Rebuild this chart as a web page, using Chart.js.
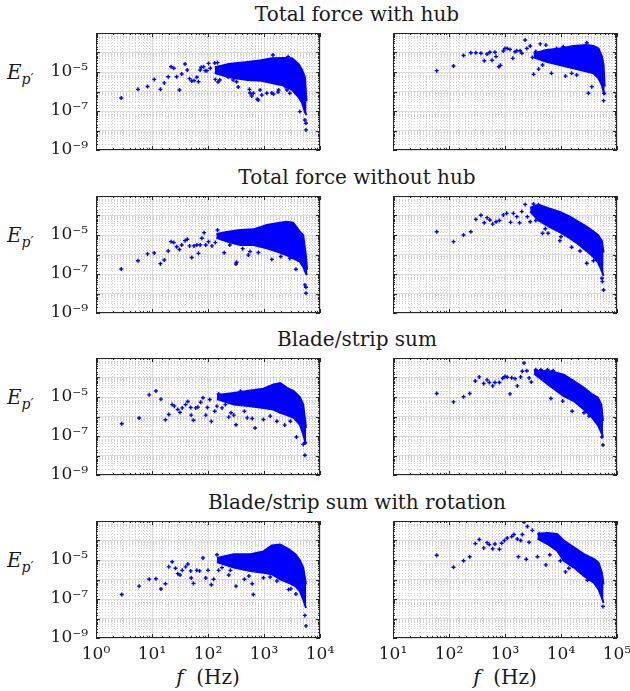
<!DOCTYPE html>
<html>
<head>
<meta charset="utf-8">
<script src="https://cdn.jsdelivr.net/npm/chart.js@4.4.0/dist/chart.umd.min.js"></script>
<style>
body { margin: 0; background: #fff; }
#wrap { position: relative; width: 630px; height: 691px; overflow: hidden; font-family: "DejaVu Serif", serif; color: #1a1a1a; }
.pan { position: absolute; }
.tit { position: absolute; left: 57px; width: 600px; text-align: center; font-size: 20px; line-height: 24px; }
.ylab { position: absolute; left: 7px; font-size: 20px; line-height: 24px; }
.ylab sub { font-size: 14px; }
.xlab { position: absolute; width: 140px; text-align: center; font-size: 20px; line-height: 24px; top: 665px; }
</style>
</head>
<body>
<div id="wrap"></div>
<script>
// titoli dei 4 gruppi
var titoli = ['Total force with hub', 'Total force without hub', 'Blade/strip sum', 'Blade/strip sum with rotation'];

// etichette degli assi (decadi)
var xLabLeft = [0, 1, 2, 3, 4];
var xLabRight = [1, 2, 3, 4, 5];
var yLab = [-9, -7, -5];

// punti sparsi: [log10 f, log10 E]
var p1Pts = [[0.45,-6.33],[0.75,-5.89],[0.92,-5.74],[1.04,-5.38],[1.15,-5.89],[1.22,-5.56],[1.29,-5.24],[1.34,-4.73],[1.39,-4.81],[1.44,-5.24],[1.49,-5.92],[1.53,-5.10],[1.59,-4.59],[1.63,-4.90],[1.67,-5.34],[1.71,-5.46],[1.75,-5.44],[1.80,-5.27],[1.83,-5.50],[1.86,-4.90],[1.88,-4.76],[1.92,-4.73],[1.95,-4.93],[1.98,-4.93],[2.01,-4.56],[2.04,-4.81],[2.13,-5.38],[2.12,-4.54],[2.17,-4.52],[2.21,-5.41],[2.24,-4.81],[2.18,-5.51],[2.36,-5.26],[2.36,-4.64],[2.54,-5.77],[2.45,-5.41],[2.51,-5.50],[2.70,-4.54],[2.72,-4.56],[2.74,-5.89],[2.75,-6.08],[2.78,-6.23],[2.81,-6.09],[2.88,-6.40],[2.90,-6.44],[2.93,-5.92],[2.96,-6.18],[3.05,-6.09],[3.14,-6.08],[3.17,-6.13],[3.16,-4.13],[3.25,-6.03],[3.26,-5.92],[3.38,-5.75],[3.41,-5.92],[3.43,-4.22],[3.46,-6.09],[3.64,-7.03],[3.73,-7.46],[3.75,-7.63],[3.75,-7.97]];
var p2Pts = [[1.78,-4.93],[2.08,-4.69],[2.26,-4.15],[2.39,-4.01],[2.48,-4.01],[2.57,-4.04],[2.63,-4.42],[2.68,-4.08],[2.73,-3.99],[2.77,-4.40],[2.82,-3.99],[2.84,-4.21],[2.89,-4.73],[2.92,-4.66],[2.97,-3.92],[3.00,-3.79],[3.04,-3.79],[3.09,-3.84],[3.14,-4.30],[3.18,-3.96],[3.21,-3.91],[3.27,-3.91],[3.30,-4.04],[3.36,-3.36],[3.39,-3.79],[3.45,-3.67],[3.49,-4.25],[3.51,-5.12],[3.55,-3.95],[3.60,-4.85],[3.63,-3.56],[3.67,-4.64],[3.73,-3.62],[3.83,-5.07],[3.92,-3.79],[4.04,-3.70],[4.08,-5.21],[4.19,-5.07],[4.28,-5.15],[4.46,-3.50],[4.49,-6.09],[4.55,-5.75],[4.76,-6.47],[4.77,-6.09]];
var p3Pts = [[0.45,-6.74],[0.75,-6.32],[0.92,-5.97],[1.04,-5.92],[1.15,-6.47],[1.22,-6.28],[1.29,-5.82],[1.34,-5.34],[1.39,-5.39],[1.44,-5.60],[1.49,-5.74],[1.53,-5.51],[1.59,-5.29],[1.63,-5.22],[1.67,-5.56],[1.71,-6.15],[1.75,-5.56],[1.80,-5.51],[1.83,-5.94],[1.86,-5.51],[1.89,-5.17],[1.93,-4.88],[1.96,-5.51],[2.01,-5.34],[2.07,-5.56],[2.13,-5.39],[2.17,-4.74],[2.24,-5.17],[2.29,-5.91],[2.39,-5.51],[2.50,-6.49],[2.51,-6.40],[2.62,-5.70],[2.72,-6.03],[2.75,-5.85],[2.90,-5.90],[3.14,-6.25],[3.30,-6.10],[3.46,-6.20],[3.57,-6.76],[3.73,-7.56],[3.75,-7.68],[3.75,-7.99]];
var p4Pts = [[1.78,-4.83],[2.08,-5.34],[2.26,-5.00],[2.39,-4.83],[2.48,-4.20],[2.57,-3.99],[2.63,-4.37],[2.68,-4.11],[2.73,-4.23],[2.78,-4.44],[2.84,-4.32],[2.90,-4.26],[2.97,-3.97],[3.03,-3.89],[3.10,-4.35],[3.15,-3.89],[3.21,-4.06],[3.26,-4.37],[3.30,-3.80],[3.36,-3.43],[3.40,-4.06],[3.45,-4.32],[3.51,-3.41],[3.55,-4.26],[3.60,-3.46],[3.67,-4.91],[3.72,-4.68],[3.77,-4.91],[3.98,-5.29],[4.00,-5.09],[4.19,-5.63],[4.34,-5.82],[4.46,-6.45],[4.58,-6.32],[4.73,-7.22],[4.74,-7.39],[4.76,-7.82]];
var p5Pts = [[0.46,-6.37],[0.77,-6.08],[0.95,-4.89],[1.07,-4.69],[1.16,-5.11],[1.24,-6.17],[1.30,-5.90],[1.36,-5.39],[1.40,-5.47],[1.46,-5.64],[1.50,-5.79],[1.54,-5.56],[1.60,-5.39],[1.64,-5.23],[1.69,-5.54],[1.70,-5.93],[1.74,-6.19],[1.78,-5.56],[1.82,-5.52],[1.87,-5.27],[1.91,-5.04],[1.96,-5.93],[1.99,-5.54],[2.03,-5.13],[2.06,-6.25],[2.12,-5.73],[2.16,-5.47],[2.19,-4.84],[2.25,-5.56],[2.31,-5.39],[2.37,-6.03],[2.41,-5.81],[2.46,-5.93],[2.50,-6.42],[2.58,-4.70],[2.65,-5.73],[2.70,-6.07],[2.79,-6.10],[2.84,-6.59],[2.99,-6.15],[3.11,-5.98],[3.23,-6.24],[3.37,-6.44],[3.47,-6.24],[3.58,-7.05],[3.70,-7.43],[3.73,-7.34],[3.73,-7.99]];
var p6Pts = [[1.78,-4.82],[2.08,-5.25],[2.26,-4.99],[2.37,-4.82],[2.47,-4.18],[2.54,-3.97],[2.62,-4.31],[2.68,-4.12],[2.72,-4.26],[2.78,-4.43],[2.82,-4.26],[2.90,-4.26],[2.96,-4.04],[3.00,-3.95],[3.04,-3.99],[3.09,-4.84],[3.12,-4.01],[3.18,-4.06],[3.22,-4.43],[3.28,-3.97],[3.31,-3.68],[3.34,-3.26],[3.39,-3.65],[3.43,-4.02],[3.47,-4.23],[3.55,-3.60],[3.64,-3.60],[3.70,-3.77],[3.76,-3.60],[3.82,-5.08],[3.86,-3.65],[4.03,-5.21],[4.20,-5.73],[4.41,-5.81],[4.50,-5.98],[4.73,-7.05],[4.75,-7.46]];
var p7Pts = [[0.46,-6.77],[0.77,-6.34],[0.95,-5.99],[1.07,-5.96],[1.16,-6.49],[1.24,-6.22],[1.30,-5.35],[1.36,-5.09],[1.42,-5.42],[1.46,-5.70],[1.50,-5.77],[1.54,-5.53],[1.60,-5.35],[1.64,-5.21],[1.69,-5.56],[1.70,-5.92],[1.74,-6.20],[1.80,-5.53],[1.85,-5.56],[1.91,-4.90],[1.96,-5.92],[2.00,-5.53],[2.06,-6.27],[2.10,-5.99],[2.16,-4.73],[2.19,-5.53],[2.25,-5.39],[2.37,-5.77],[2.40,-5.53],[2.50,-6.34],[2.61,-4.78],[2.65,-5.99],[2.73,-5.82],[2.79,-6.22],[2.81,-6.77],[2.99,-5.91],[3.11,-5.87],[3.23,-6.08],[3.44,-6.51],[3.48,-6.48],[3.57,-6.74],[3.73,-7.84],[3.75,-8.38]];
var p8Pts = [[1.78,-4.76],[2.08,-5.37],[2.26,-5.04],[2.37,-4.83],[2.47,-4.16],[2.54,-3.95],[2.62,-4.38],[2.68,-4.11],[2.72,-4.21],[2.78,-4.42],[2.82,-4.18],[2.90,-4.45],[2.94,-4.14],[2.99,-4.00],[3.04,-3.87],[3.12,-3.80],[3.16,-3.69],[3.22,-3.92],[3.24,-4.83],[3.28,-4.00],[3.31,-3.69],[3.34,-3.05],[3.38,-4.96],[3.40,-3.28],[3.43,-4.09],[3.49,-3.48],[3.58,-4.83],[3.61,-3.66],[3.73,-5.25],[3.80,-4.73],[3.99,-5.04],[4.08,-5.61],[4.14,-5.42],[4.47,-6.04],[4.75,-7.38]];

// nuvola densa: [log10 f, bordo alto, bordo basso]
var p1Env = [[2.12,-4.75,-5.05],[2.40,-4.58,-5.28],[2.71,-4.49,-5.41],[2.95,-4.40,-5.45],[3.14,-4.30,-5.56],[3.35,-4.28,-5.70],[3.50,-4.30,-5.92],[3.62,-4.60,-6.30],[3.68,-4.90,-6.59],[3.73,-5.26,-7.05],[3.76,-6.50,-7.20]];
var p2Env = [[3.51,-4.05,-4.25],[3.74,-3.87,-4.47],[3.98,-3.79,-4.64],[4.22,-3.67,-4.81],[4.46,-3.62,-4.98],[4.58,-3.67,-5.07],[4.67,-3.79,-5.32],[4.73,-4.21,-5.67],[4.76,-4.64,-6.01],[4.78,-5.75,-6.18]];
var p3Env = [[2.15,-4.95,-5.15],[2.33,-4.85,-5.32],[2.57,-4.74,-5.51],[2.81,-4.71,-5.51],[3.05,-4.49,-5.68],[3.23,-4.40,-5.85],[3.40,-4.32,-6.03],[3.52,-4.37,-6.20],[3.64,-4.83,-6.37],[3.70,-5.00,-6.62],[3.75,-6.11,-6.97],[3.77,-6.79,-7.05]];
var p4Env = [[3.45,-3.60,-3.80],[3.60,-3.45,-4.25],[3.80,-3.65,-4.60],[3.98,-3.82,-4.85],[4.15,-4.05,-5.15],[4.30,-4.30,-5.45],[4.45,-4.55,-5.80],[4.57,-4.80,-6.10],[4.66,-5.00,-6.40],[4.73,-5.30,-6.85],[4.76,-5.90,-7.10]];
var p5Env = [[2.16,-4.90,-5.10],[2.46,-4.79,-5.39],[2.76,-4.67,-5.47],[2.99,-4.57,-5.56],[3.17,-4.36,-5.64],[3.29,-4.28,-5.81],[3.41,-4.53,-5.93],[3.53,-4.70,-6.07],[3.64,-5.01,-6.41],[3.70,-5.39,-6.92],[3.75,-6.58,-7.43]];
var p6Env = [[3.52,-3.65,-3.80],[3.81,-3.68,-4.45],[4.05,-3.85,-4.96],[4.23,-4.19,-5.21],[4.41,-4.53,-5.64],[4.56,-4.87,-6.07],[4.66,-5.04,-6.44],[4.72,-5.39,-6.83],[4.75,-6.24,-7.00]];
var p7Env = [[2.16,-4.90,-5.10],[2.46,-4.70,-5.39],[2.76,-4.70,-5.56],[2.99,-4.56,-5.65],[3.14,-4.26,-5.73],[3.29,-4.21,-5.99],[3.44,-4.44,-6.17],[3.56,-4.70,-6.34],[3.64,-5.01,-6.60],[3.70,-5.39,-7.03],[3.75,-6.25,-7.46]];
var p8Env = [[3.58,-3.65,-3.90],[3.76,-3.62,-4.18],[3.93,-3.66,-4.52],[4.05,-4.00,-5.04],[4.23,-4.35,-5.39],[4.41,-4.70,-5.82],[4.59,-4.96,-6.17],[4.67,-5.13,-6.51],[4.73,-5.65,-6.94],[4.76,-6.25,-7.20]];

var pannelli = [
    {pts: p1Pts, env: p1Env}, {pts: p2Pts, env: p2Env},
    {pts: p3Pts, env: p3Env}, {pts: p4Pts, env: p4Env},
    {pts: p5Pts, env: p5Env}, {pts: p6Pts, env: p6Env},
    {pts: p7Pts, env: p7Env}, {pts: p8Pts, env: p8Env}
];

// geometria
var plotLeft = [96, 393];
var plotTop = [33, 196, 358, 521];
var plotW = 224, plotH = 117;
var L = 64, R = 24, T = 8, B = 40;
var blu = '#0000ff';

var wrap = document.getElementById('wrap');

function isDecade(v) {
    var l = Math.log10(v);
    return Math.abs(l - Math.round(l)) < 1e-6;
}

var supMap = {'-': '\u207B', '0': '\u2070', '1': '\u00B9', '2': '\u00B2', '3': '\u00B3', '4': '\u2074', '5': '\u2075', '6': '\u2076', '7': '\u2077', '8': '\u2078', '9': '\u2079'};
function potenza(e) {
    var s = String(e).split('').map(function(c) { return supMap[c]; }).join('');
    return '10' + s;
}

// cornice nera con tacche interne
var cornice = {
    id: 'cornice',
    afterDraw: function(chart) {
        var a = chart.chartArea, ctx = chart.ctx;
        var sx = chart.scales.x, sy = chart.scales.y;
        ctx.save();
        ctx.strokeStyle = '#262626';
        ctx.lineWidth = 1;
        ctx.beginPath();
        sx.ticks.forEach(function(t) {
            var px = Math.round(sx.getPixelForValue(t.value)) + 0.5;
            var len = isDecade(t.value) ? 4 : 2;
            ctx.moveTo(px, a.bottom); ctx.lineTo(px, a.bottom - len);
            ctx.moveTo(px, a.top); ctx.lineTo(px, a.top + len);
        });
        sy.ticks.forEach(function(t) {
            var py = Math.round(sy.getPixelForValue(t.value)) + 0.5;
            var len = isDecade(t.value) ? 4 : 2;
            ctx.moveTo(a.left, py); ctx.lineTo(a.left + len, py);
            ctx.moveTo(a.right, py); ctx.lineTo(a.right - len, py);
        });
        ctx.stroke();
        ctx.strokeRect(a.left + 0.5, a.top + 0.5, a.right - a.left - 1, a.bottom - a.top - 1);
        ctx.restore();
    }
};

function xy(i) {
    return function(p) { return {x: Math.pow(10, p[0]), y: Math.pow(10, p[i])}; };
}

function creaPannello(k) {
    var row = Math.floor(k / 2), col = k % 2;
    var pan = pannelli[k];
    var div = document.createElement('div');
    div.className = 'pan';
    div.style.left = (plotLeft[col] - L) + 'px';
    div.style.top = (plotTop[row] - T) + 'px';
    var canvas = document.createElement('canvas');
    canvas.width = L + plotW + R;
    canvas.height = T + plotH + B;
    div.appendChild(canvas);
    wrap.appendChild(div);

    var xLab = col === 0 ? xLabLeft : xLabRight;
    var grigliaColore = function(ctx) { return isDecade(ctx.tick.value) ? '#dcdcdc' : '#d0d0d0'; };
    var grigliaTratto = function(ctx) { return isDecade(ctx.tick.value) ? [] : [1, 2]; };

    new Chart(canvas, {
        type: 'scatter',
        data: {
            datasets: [{
                data: pan.pts.map(xy(1)),
                pointStyle: 'cross',
                pointRadius: 2,
                borderColor: blu,
                backgroundColor: blu,
                borderWidth: 1.4
            },
            {
                type: 'line',
                data: pan.env.map(xy(1)),
                fill: '+1',
                backgroundColor: blu,
                borderColor: blu,
                borderWidth: 2,
                pointRadius: 0,
                tension: 0
            },
            {
                type: 'line',
                data: pan.env.map(xy(2)),
                fill: false,
                borderColor: blu,
                borderWidth: 2,
                pointRadius: 0,
                tension: 0
            }]
        },
        options: {
            responsive: false,
            animation: false,
            devicePixelRatio: 1,
            layout: {padding: {top: T, right: R, left: 0, bottom: 0}},
            plugins: {legend: {display: false}, tooltip: {enabled: false}},
            scales: {
                x: {
                    type: 'logarithmic',
                    min: Math.pow(10, xLab[0]),
                    max: Math.pow(10, xLab[xLab.length - 1]),
                    afterFit: function(s) { s.height = B; s.paddingLeft = 0; s.paddingRight = 0; },
                    grid: {color: grigliaColore, lineWidth: 1, drawTicks: false},
                    border: {display: false, dash: grigliaTratto},
                    ticks: {
                        display: row === 3,
                        autoSkip: false,
                        maxRotation: 0,
                        padding: 6,
                        color: '#1a1a1a',
                        font: {family: 'DejaVu Serif', size: 17},
                        callback: function(v) {
                            if (!isDecade(v)) return '';
                            var e = Math.round(Math.log10(v));
                            return xLab.indexOf(e) >= 0 ? potenza(e) : '';
                        }
                    }
                },
                y: {
                    type: 'logarithmic',
                    min: 1e-9,
                    max: 1e-3,
                    afterFit: function(s) { s.width = L; s.paddingTop = 0; s.paddingBottom = 0; },
                    grid: {color: grigliaColore, lineWidth: 1, drawTicks: false},
                    border: {display: false, dash: grigliaTratto},
                    ticks: {
                        display: col === 0,
                        autoSkip: false,
                        padding: 8,
                        color: '#1a1a1a',
                        font: {family: 'DejaVu Serif', size: 17},
                        callback: function(v) {
                            if (!isDecade(v)) return '';
                            var e = Math.round(Math.log10(v));
                            return yLab.indexOf(e) >= 0 ? potenza(e) : '';
                        }
                    }
                }
            }
        },
        plugins: [cornice]
    });
}

for (var r = 0; r < 4; r++) {
    var t = document.createElement('div');
    t.className = 'tit';
    t.style.top = (plotTop[r] - 31) + 'px';
    t.textContent = titoli[r];
    wrap.appendChild(t);

    var yl = document.createElement('div');
    yl.className = 'ylab';
    yl.style.top = (plotTop[r] + 27) + 'px';
    yl.innerHTML = '<i>E</i><sub><i>p\u2032</i></sub>';
    wrap.appendChild(yl);
}

for (var c = 0; c < 2; c++) {
    var xl = document.createElement('div');
    xl.className = 'xlab';
    xl.style.left = (plotLeft[c] + plotW / 2 - 70) + 'px';
    xl.innerHTML = '<i>f</i>&nbsp;&nbsp;(Hz)';
    wrap.appendChild(xl);
}

for (var k = 0; k < pannelli.length; k++) {
    creaPannello(k);
}
</script>
</body>
</html>
